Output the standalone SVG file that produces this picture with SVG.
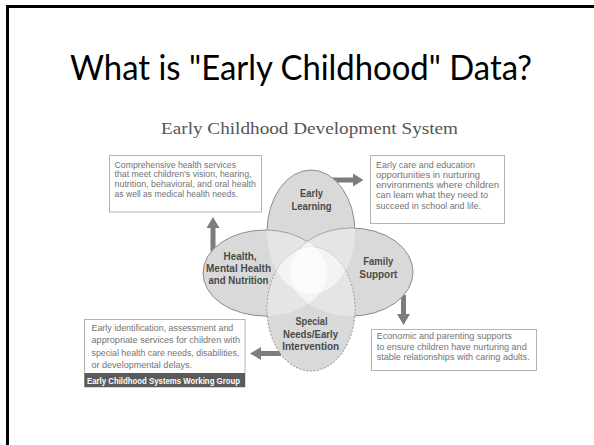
<svg xmlns="http://www.w3.org/2000/svg" width="594" height="445" viewBox="0 0 594 445">
<style>
.title{font-family:Lato,"Open Sans","Liberation Sans",sans-serif;font-size:35px;fill:#000}
.sub{font-family:"Liberation Serif","Times New Roman",serif;font-size:17px;fill:#555}
.box{fill:#fff;stroke:#b4b4b4;stroke-width:1}
.bt{font-family:"Liberation Sans",Arial,sans-serif;font-size:9.6px;fill:#737373}
.bt1{font-size:8.4px}
.bt2{font-size:8.8px}
.ell{fill:#d9d9d9;stroke:#8c8c8c;stroke-width:1}
.dash{stroke-dasharray:2 1.6}
.lbl{font-family:"Liberation Sans",Arial,sans-serif;font-size:10.5px;font-weight:bold;fill:#4a4a4a;text-anchor:middle}
.arrow{fill:#7d7d7d}
.ov{fill:#fff;fill-opacity:0.33}
.bar{fill:#5a5a5a}
.bartext{font-family:"Liberation Sans",Arial,sans-serif;font-size:9px;font-weight:bold;fill:#fff}
</style>
<defs>
<clipPath id="cEL"><ellipse cx="311" cy="232" rx="44" ry="62"/></clipPath>
<clipPath id="cHE"><ellipse cx="265" cy="273" rx="62" ry="43"/></clipPath>
<clipPath id="cFS"><ellipse cx="351.5" cy="272" rx="61.5" ry="44"/></clipPath>
<clipPath id="cSN"><ellipse cx="311" cy="309" rx="44" ry="62"/></clipPath>
</defs>
<rect x="0" y="0" width="594" height="445" fill="#fff"/>
<rect x="7.5" y="6.5" width="620" height="460" fill="none" stroke="#000" stroke-width="3"/>
<text class="title" x="70" y="80" textLength="462" lengthAdjust="spacingAndGlyphs">What is "Early Childhood" Data?</text>
<text class="sub" x="161" y="134" textLength="297" lengthAdjust="spacingAndGlyphs">Early Childhood Development System</text>

<g id="node-health-services-box">
<rect class="box" x="109.5" y="155.5" width="152" height="56.5"/>
<text class="bt bt1" x="114.5" y="167.5" textLength="121.5" lengthAdjust="spacingAndGlyphs">Comprehensive health services</text>
<text class="bt bt1" x="114.5" y="177.3" textLength="137" lengthAdjust="spacingAndGlyphs">that meet children’s vision, hearing,</text>
<text class="bt bt1" x="114.5" y="187.1" textLength="141.5" lengthAdjust="spacingAndGlyphs">nutrition, behavioral, and oral health</text>
<text class="bt bt1" x="114.5" y="196.9" textLength="123.5" lengthAdjust="spacingAndGlyphs">as well as medical health needs.</text>
</g>

<g id="node-early-care-box">
<rect class="box" x="370.5" y="155.5" width="134" height="68"/>
<text class="bt bt2" x="376" y="167.7" textLength="99" lengthAdjust="spacingAndGlyphs">Early care and education</text>
<text class="bt bt2" x="376" y="178" textLength="104" lengthAdjust="spacingAndGlyphs">opportunities in nurturing</text>
<text class="bt bt2" x="376" y="188.2" textLength="123" lengthAdjust="spacingAndGlyphs">environments where children</text>
<text class="bt bt2" x="376" y="198.4" textLength="112" lengthAdjust="spacingAndGlyphs">can learn what they need to</text>
<text class="bt bt2" x="376" y="208.6" textLength="105" lengthAdjust="spacingAndGlyphs">succeed in school and life.</text>
</g>

<g id="node-early-identification-box">
<rect class="box" x="84.5" y="319.5" width="160.5" height="67.5"/>
<text class="bt" x="91.5" y="331" textLength="141.8" lengthAdjust="spacingAndGlyphs">Early identification, assessment and</text>
<text class="bt" x="91.5" y="343.3" textLength="148.5" lengthAdjust="spacingAndGlyphs">appropriate services for children with</text>
<text class="bt" x="91.5" y="355.5" textLength="147.8" lengthAdjust="spacingAndGlyphs">special health care needs, disabilities,</text>
<text class="bt" x="91.5" y="367.8" textLength="100.5" lengthAdjust="spacingAndGlyphs">or developmental delays.</text>
<rect class="bar" x="84.5" y="373" width="160.5" height="14"/>
<text class="bartext" x="87" y="383.5" textLength="153" lengthAdjust="spacingAndGlyphs">Early Childhood Systems Working Group</text>
</g>

<g id="node-economic-box">
<rect class="box" x="371.5" y="329.5" width="165" height="41"/>
<text class="bt bt2" x="376.7" y="339.4" textLength="135" lengthAdjust="spacingAndGlyphs">Economic and parenting supports</text>
<text class="bt bt2" x="376.7" y="349.6" textLength="150" lengthAdjust="spacingAndGlyphs">to ensure children have nurturing and</text>
<text class="bt bt2" x="376.7" y="359.8" textLength="153" lengthAdjust="spacingAndGlyphs">stable relationships with caring adults.</text>
</g>

<g id="connectors">
<polygon class="arrow" points="332,177.5 353,177.5 353,173.5 363.5,180 353,186.5 353,182.5 332,182.5"/>
<polygon class="arrow" points="210.5,251 210.5,228 206.5,228 213,217 219.5,228 215.5,228 215.5,251"/>
<polygon class="arrow" points="401,295 401,314 397,314 403.5,325 410,314 406,314 406,295"/>
<polygon class="arrow" points="281,351 261,351 261,347 250,353.5 261,360 261,356 281,356"/>
</g>

<g id="node-early-learning">
<ellipse class="ell" cx="311" cy="232" rx="44" ry="62"/>
</g>
<g id="node-health">
<ellipse class="ell" cx="265" cy="273" rx="62" ry="43"/>
</g>
<g id="node-family-support">
<ellipse class="ell" cx="351.5" cy="272" rx="61.5" ry="44"/>
</g>
<g id="node-special-needs">
<ellipse class="ell dash" cx="311" cy="309" rx="44" ry="62"/>
</g>

<g id="overlaps">
<ellipse class="ov" cx="265" cy="273" rx="62" ry="43" clip-path="url(#cEL)"/>
<ellipse class="ov" cx="351.5" cy="272" rx="61.5" ry="44" clip-path="url(#cEL)"/>
<ellipse class="ov" cx="311" cy="309" rx="44" ry="62" clip-path="url(#cEL)"/>
<ellipse class="ov" cx="351.5" cy="272" rx="61.5" ry="44" clip-path="url(#cHE)"/>
<ellipse class="ov" cx="311" cy="309" rx="44" ry="62" clip-path="url(#cHE)"/>
<ellipse class="ov" cx="311" cy="309" rx="44" ry="62" clip-path="url(#cFS)"/>
</g>

<g id="labels">
<text class="lbl" x="311.5" y="196.8" textLength="23" lengthAdjust="spacingAndGlyphs">Early</text>
<text class="lbl" x="311.5" y="210" textLength="40" lengthAdjust="spacingAndGlyphs">Learning</text>
<text class="lbl" x="240" y="259.5" textLength="33" lengthAdjust="spacingAndGlyphs">Health,</text>
<text class="lbl" x="238.5" y="272" textLength="65" lengthAdjust="spacingAndGlyphs">Mental Health</text>
<text class="lbl" x="238.5" y="284.3" textLength="60" lengthAdjust="spacingAndGlyphs">and Nutrition</text>
<text class="lbl" x="378.3" y="265.2" textLength="30" lengthAdjust="spacingAndGlyphs">Family</text>
<text class="lbl" x="378.3" y="277.8" textLength="38" lengthAdjust="spacingAndGlyphs">Support</text>
<text class="lbl" x="311.5" y="324.5" textLength="32" lengthAdjust="spacingAndGlyphs">Special</text>
<text class="lbl" x="310.5" y="337.5" textLength="55" lengthAdjust="spacingAndGlyphs">Needs/Early</text>
<text class="lbl" x="310.7" y="350.2" textLength="57" lengthAdjust="spacingAndGlyphs">Intervention</text>
</g>
</svg>
